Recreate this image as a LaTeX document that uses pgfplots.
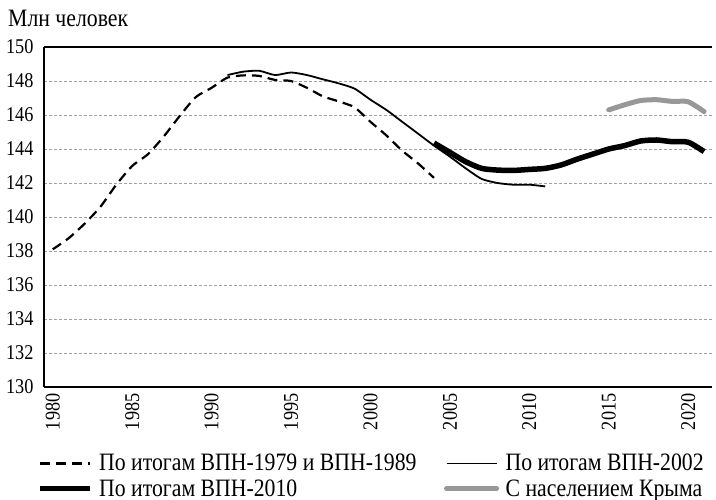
\documentclass[border=0pt]{standalone}
\usepackage{fontspec}
\setmainfont[FakeStretch=0.87]{Liberation Serif}
\usepackage{pgfplots}
\pgfplotsset{compat=1.18}
\definecolor{crimea}{RGB}{152,152,152}
\definecolor{gridc}{RGB}{160,160,160}
\begin{document}
\begin{tikzpicture}
\path[use as bounding box] (0,0) rectangle (716bp,-500bp);
\node[anchor=base west, inner sep=0pt, font=\fontsize{25bp}{28bp}\selectfont] at (8bp,-26bp) {Млн человек};
\begin{axis}[
  at={(44bp,-387bp)}, anchor=south west,
  scale only axis, width=668bp, height=340bp,
  xmin=1979.45, xmax=2021.5, ymin=130, ymax=150,
  axis x line=box, axis y line=left,
  axis line style={line width=1.3bp, -},
  xtick={1980,1985,...,2020}, ytick={130,132,...,150},
  major tick length=0pt,
  xticklabel style={rotate=90, anchor=east, font=\fontsize{21bp}{24bp}\selectfont, xshift=-3bp},
  yticklabel style={font=\fontsize{21bp}{24bp}\selectfont, xshift=-7bp},
  /pgf/number format/assume math mode=true,
  /pgf/number format/1000 sep={},
  ymajorgrids, grid style={gridc, line width=0.8bp, dash pattern=on 3bp off 2bp},
  clip=false,
  legend columns=2,
  legend style={draw=none, fill=none, at={(-0.0105,-0.196)}, anchor=north west, inner sep=0pt,
    font=\fontsize{25bp}{28bp}\selectfont, row sep=6bp,
    nodes={inner sep=0.5bp},
    /tikz/every odd column/.append style={column sep=6bp},
    /tikz/every even column/.append style={column sep=27bp}},
  legend cell align=left,
  legend image code/.code={\draw[#1] (0bp,0bp) -- (50bp,0bp);},
]
\addplot[black, line width=2.2bp, dash pattern=on 10bp off 6bp, smooth, tension=0.4] coordinates {
(1980,138.1)(1981,138.75)(1982,139.6)(1983,140.6)(1984,141.9)(1985,143.0)(1986,143.7)(1987,144.75)(1988,145.95)(1989,147.05)(1990,147.6)(1991,148.2)(1992,148.33)(1993,148.3)(1994,148.06)(1995,148.0)(1996,147.6)(1997,147.1)(1998,146.8)(1999,146.45)(2000,145.6)(2001,144.8)(2002,143.9)(2003,143.15)(2004,142.3)};
\addlegendentry{По итогам ВПН-1979 и ВПН-1989}
\addplot[black, line width=1.8bp, smooth, tension=0.4] coordinates {
(1991,148.35)(1992,148.55)(1993,148.6)(1994,148.35)(1995,148.5)(1996,148.35)(1997,148.1)(1998,147.86)(1999,147.55)(2000,146.9)(2001,146.3)(2002,145.6)(2003,144.9)(2004,144.2)(2005,143.55)(2006,142.86)(2007,142.24)(2008,142.0)(2009,141.9)(2010,141.9)(2011,141.8)};
\addlegendentry{По итогам ВПН-2002}
\addplot[black, line width=5.5bp, smooth, tension=0.4] coordinates {
(2004,144.35)(2005,143.8)(2006,143.25)(2007,142.86)(2008,142.76)(2009,142.74)(2010,142.8)(2011,142.86)(2012,143.06)(2013,143.4)(2014,143.7)(2015,144.0)(2016,144.2)(2017,144.47)(2018,144.53)(2019,144.43)(2020,144.4)(2021,143.85)};
\addlegendentry{По итогам ВПН-2010}
\addplot[crimea, line width=5bp, line cap=round, smooth, tension=0.4] coordinates {
(2015,146.3)(2016,146.6)(2017,146.85)(2018,146.9)(2019,146.8)(2020,146.78)(2021,146.2)};
\addlegendentry{С населением Крыма}
\end{axis}
\end{tikzpicture}
\end{document}
